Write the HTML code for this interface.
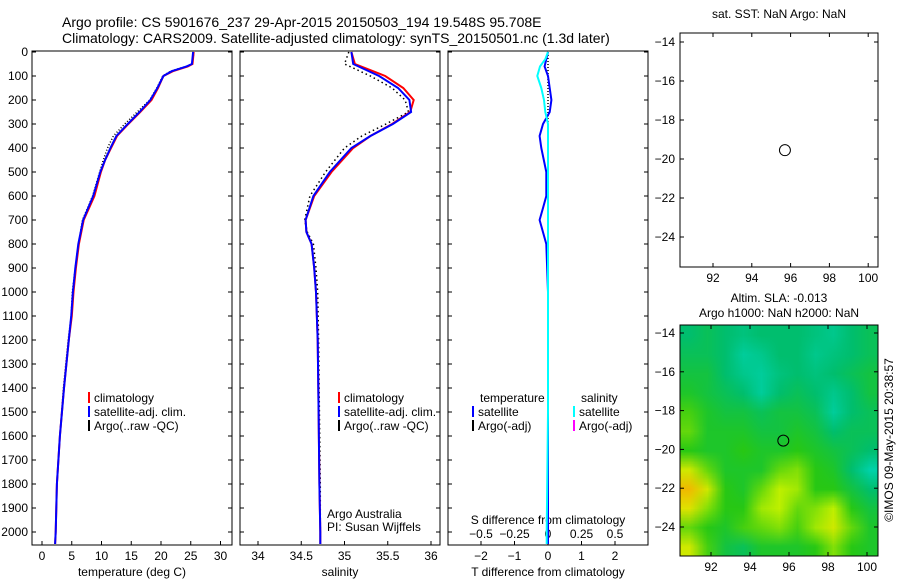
<!DOCTYPE html>
<html><head><meta charset="utf-8"><style>
body{margin:0;background:#fff;width:900px;height:580px;overflow:hidden;position:relative;font-family:"Liberation Sans",sans-serif}
svg{position:absolute;left:0;top:0}
text{font-family:"Liberation Sans",sans-serif;font-size:12px;fill:#000}
#hm{position:absolute;left:680px;top:325px;width:198px;height:231px;image-rendering:auto}
</style></head><body>
<canvas id="hm" width="11" height="12"></canvas>
<svg id="s" width="900" height="580"></svg>
<script>
// ---- data ----
const depths=[0,50,60,80,100,150,200,250,300,350,400,450,500,600,700,800,900,1000,1100,1200,1400,1600,1800,2000,2050];
const tempClim=[25.5,25.3,24.5,22,20.4,19.5,18.4,16.5,14.5,12.6,11.6,10.6,9.9,8.8,7.0,6.2,5.7,5.3,5.0,4.5,3.7,3.0,2.5,2.3,2.2];
const tempSat=[25.4,25.2,24.3,21.8,20.4,19.4,18.2,16.4,14.4,12.5,11.5,10.6,9.8,8.6,6.9,6.1,5.6,5.2,4.9,4.5,3.7,3.0,2.5,2.3,2.2];
const tempArgo=[25.5,25.3,24.2,21.6,20.3,19.3,18.1,16.0,13.9,12.0,11.0,10.3,9.7,8.5,6.8,6.1,5.6,5.1,4.9,4.4,3.6,3.0,2.5,2.3,2.2];
const salDepths=[0,50,100,150,200,250,300,350,400,500,600,700,750,800,900,1000,1200,1500,1800,2000,2050];
const salClim=[35.08,35.12,35.47,35.68,35.8,35.76,35.55,35.3,35.1,34.85,34.65,34.55,34.56,34.62,34.65,34.67,34.69,34.7,34.71,34.72,34.72];
const salSat=[35.08,35.1,35.4,35.62,35.75,35.77,35.56,35.3,35.08,34.83,34.64,34.55,34.56,34.62,34.65,34.67,34.69,34.7,34.71,34.72,34.72];
const salArgo=[35.05,35.0,35.3,35.55,35.7,35.74,35.48,35.2,35.0,34.78,34.6,34.54,34.57,34.64,34.67,34.69,34.7,34.71,34.72,34.72,34.72];
const diffDepths=[0,30,60,100,150,200,250,300,350,400,500,600,650,700,800,1000,1500,2000,2050];
const tDiffSat=[0,-0.05,-0.1,0,0.05,0.1,0.05,-0.15,-0.25,-0.2,-0.05,-0.05,-0.15,-0.25,-0.05,0,0,0,0];
const sDiffSat=[0,-0.02,-0.06,-0.08,-0.05,-0.03,-0.02,0,0,0,0,0,0,0,0,0,0,-0.01,-0.01];
const tempTicks=[0,5,10,15,20,25,30];
const salTicks=[34,34.5,35,35.5,36];
const tDiffTicks=[-2,-1,0,1,2];
const sDiffTicks=[-0.5,-0.25,0,0.25,0.5];
const depthTicks=[0,100,200,300,400,500,600,700,800,900,1000,1100,1200,1300,1400,1500,1600,1700,1800,1900,2000];
const lonTicks=[92,94,96,98,100];
const latTicks=[-14,-16,-18,-20,-22,-24];
const argoLon=95.708, argoLat=-19.548;
const slaGrid=[
[.3,.35,.3,.25,.3,.3,.3,.25,.2,.3,.35],
[.35,.35,.3,.15,.2,.3,.3,.2,.25,.3,.35],
[.4,.4,.3,.2,.15,.25,.3,.25,.3,.35,.4],
[.45,.4,.35,.3,.15,.3,.35,.3,.2,.3,.4],
[.55,.45,.4,.4,.35,.4,.4,.35,.15,.3,.35],
[.6,.45,.45,.45,.4,.4,.45,.4,.3,.35,.35],
[.5,.45,.45,.5,.45,.45,.5,.45,.4,.35,.3],
[.8,.6,.45,.45,.45,.6,.65,.5,.45,.3,.1],
[.95,.8,.5,.45,.6,.75,.7,.5,.5,.4,.3],
[.85,.65,.5,.5,.7,.75,.6,.65,.75,.5,.4],
[.6,.5,.45,.55,.6,.65,.55,.7,.8,.6,.45],
[.8,.55,.4,.35,.45,.45,.45,.5,.65,.5,.45]];

// ---- drawing ----
const S=document.getElementById('s'),NS='http://www.w3.org/2000/svg';
function el(t,a,txt){const e=document.createElementNS(NS,t);for(const k in a)e.setAttribute(k,a[k]);if(txt!==undefined)e.textContent=txt;S.appendChild(e);return e;}
function txt(x,y,s,anchor,name){const e=el('text',{x:x,y:y,'text-anchor':anchor||'start'},s);

return e;}
const Y=d=>52+d*0.24;
const tX=v=>42+v*5.95, sX=v=>258+(v-34)*86.5, dX=v=>548+v*33.5, dsX=v=>548+v*134;
function line(xs,ds,f,col,w,dash,name){let p=xs.map((v,i)=>(i?'L':'M')+f(v).toFixed(1)+','+Y(ds[i]).toFixed(1)).join('');
const e=el('path',{d:p,fill:'none',stroke:col,'stroke-width':w});if(dash)e.setAttribute('stroke-dasharray',dash);

}
function panel(x0,name){const r=el('rect',{x:x0,y:51,width:200,height:494,fill:'none',stroke:'#000'});


depthTicks.forEach(d=>{el('line',{x1:x0,x2:x0+4,y1:Y(d),y2:Y(d),stroke:'#000'});el('line',{x1:x0+196,x2:x0+200,y1:Y(d),y2:Y(d),stroke:'#000'});});}
function xticks(ticks,f,y,labelY,name){ticks.forEach(t=>{el('line',{x1:f(t),x2:f(t),y1:y-4,y2:y,stroke:'#000'});txt(f(t),labelY,String(t).replace('-','\u2212'),'middle',name);});}

panel(32,'temperature-panel');panel(240,'salinity-panel');panel(448,'difference-panel');
depthTicks.forEach(d=>txt(28,Y(d)+4,d,'end','depth-tick'));
xticks(tempTicks,tX,545,560,'temp-tick');xticks(salTicks,sX,545,560,'salinity-tick');
xticks(tDiffTicks,dX,545,560,'tdiff-tick');
sDiffTicks.forEach(t=>{el('line',{x1:dsX(t),x2:dsX(t),y1:541,y2:545,stroke:'#000'});txt(dsX(t),538,String(t).replace('-','\u2212'),'middle','sdiff-tick');});
txt(132,576,'temperature (deg C)','middle','x-axis-title');
txt(340,576,'salinity','middle','x-axis-title');
txt(548,576,'T difference from climatology','middle','x-axis-title');
txt(548,524,'S difference from climatology','middle','x-axis-title');

line(tempArgo,depths,tX,'#000',1.5,'1 2','temp-argo');
line(tempClim,depths,tX,'#f00',2,null,'temp-climatology');
line(tempSat,depths,tX,'#00f',2,null,'temp-satellite');
line(salArgo,salDepths,sX,'#000',1.5,'1.5 3','sal-argo');
line(salClim,salDepths,sX,'#f00',2,null,'sal-climatology');
line(salSat,salDepths,sX,'#00f',2,null,'sal-satellite');
line(diffDepths.map(()=>0),diffDepths,dX,'#000',1.5,'1 2','diff-argo');
line(tDiffSat,diffDepths,dX,'#00f',2,null,'tdiff-satellite');
line(sDiffSat,diffDepths,dsX,'#0ff',2,null,'sdiff-satellite');

function legend(x,y,col,label){el('rect',{x:x,y:y-10,width:2,height:11,fill:col});txt(x+6,y,label,'start','legend-entry');}
[[88,'#f00','climatology'],[88,'#00f','satellite-adj. clim.'],[88,'#000','Argo(..raw -QC)']].forEach((l,i)=>{legend(l[0],402+i*14,l[1],l[2]);legend(l[0]+250,402+i*14,l[1],l[2]);});
txt(480,402,'temperature','start','legend-title');txt(581,402,'salinity','start','legend-title');
legend(472,416,'#00f','satellite');legend(472,430,'#000','Argo(-adj)');
legend(573,416,'#0ff','satellite');legend(573,430,'#f0f','Argo(-adj)');
txt(327,518,'Argo Australia','start','credit');txt(327,531,'PI: Susan Wijffels','start','credit');

const t1=txt(62,27,'Argo profile: CS 5901676_237 29-Apr-2015 20150503_194 19.548S 95.708E','start','title');t1.style.fontSize='14px';
const t2=txt(62,43,'Climatology: CARS2009. Satellite-adjusted climatology: synTS_20150501.nc (1.3d later)','start','title');t2.style.fontSize='14px';

function map(x0,y0,w,h,lat14,latPx,lon92,lonPx,name){
const lx=v=>lon92+(v-92)*lonPx, ly=v=>lat14+(-14-v)*latPx;
const r=el('rect',{x:x0,y:y0,width:w,height:h,fill:'none',stroke:'#000'});


lonTicks.forEach(t=>{el('line',{x1:lx(t),x2:lx(t),y1:y0,y2:y0+4,stroke:'#000'});el('line',{x1:lx(t),x2:lx(t),y1:y0+h-4,y2:y0+h,stroke:'#000'});txt(lx(t),y0+h+15,t,'middle','lon-tick');});
latTicks.forEach(t=>{el('line',{x1:x0,x2:x0+4,y1:ly(t),y2:ly(t),stroke:'#000'});el('line',{x1:x0+w-4,x2:x0+w,y1:ly(t),y2:ly(t),stroke:'#000'});txt(x0-5,ly(t)+4,String(t).replace('-','\u2212'),'end','lat-tick');});
const c=el('circle',{cx:lx(argoLon),cy:ly(argoLat),r:5.5,fill:'none',stroke:'#000'});

}
map(680,33,198,234,42,19.5,713,19.4,'sst-map');
map(680,325,198,231,333,19.4,711,19.5,'sla-map');
txt(779,18,'sat. SST: NaN Argo: NaN','middle','map-title');
txt(779,302,'Altim. SLA: -0.013','middle','map-title');
txt(779,317,'Argo h1000: NaN h2000: NaN','middle','map-title');
const rt=txt(0,0,'\u00a9IMOS 09-May-2015 20:38:57','middle','timestamp');rt.setAttribute('transform','translate(893,440) rotate(-90)');

// heatmap
const stops=[[0,[0,220,200]],[.3,[0,190,110]],[.5,[40,200,20]],[.75,[190,240,0]],[.9,[240,220,0]],[1,[240,150,0]]];
function cmap(v){for(let i=1;i<stops.length;i++)if(v<=stops[i][0]){const a=stops[i-1],b=stops[i],t=(v-a[0])/(b[0]-a[0]);return a[1].map((c,k)=>Math.round(c+(b[1][k]-c)*t));}return stops[stops.length-1][1];}
const ctx=document.getElementById('hm').getContext('2d');
slaGrid.forEach((row,j)=>row.forEach((v,i)=>{const c=cmap(v);ctx.fillStyle=`rgb(${c[0]},${c[1]},${c[2]})`;ctx.fillRect(i,j,1,1);}));
</script></body></html>
